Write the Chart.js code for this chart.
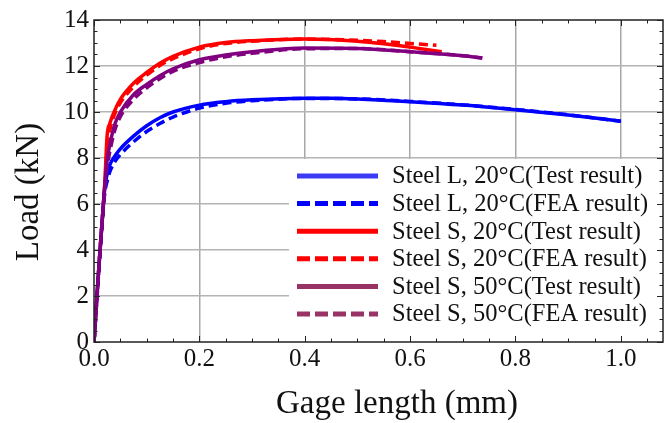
<!DOCTYPE html>
<html><head><meta charset="utf-8">
<script src="https://cdn.jsdelivr.net/npm/chart.js@4/dist/chart.umd.min.js"></script>
<style>html,body{margin:0;padding:0;background:#fff;}canvas{display:block;}</style>
</head><body>
<canvas id="c" width="664" height="423"></canvas>
<script>
// ---- data (gage length in mm, load in kN) ----
const gageL20Test = [0,0.005,0.01,0.015,0.02,0.024,0.03,0.04,0.05,0.075,0.1,0.125,0.15,0.2,0.25,0.3,0.4,0.45,0.5,0.6,0.7,0.8,0.9,1.0];
const loadL20Test = [0,1.8,3.5,5.1,6.6,7.2,7.7,8.1,8.4,8.95,9.4,9.75,10.0,10.3,10.45,10.53,10.6,10.6,10.57,10.45,10.3,10.1,9.87,9.6];
const gageL20FEA  = [0,0.005,0.01,0.015,0.02,0.025,0.03,0.04,0.05,0.075,0.1,0.125,0.15,0.2,0.25,0.3,0.4,0.5,0.6,0.7,0.8,0.9,1.0];
const loadL20FEA  = [0,1.7,3.4,5.0,6.4,7.0,7.4,7.85,8.15,8.7,9.15,9.5,9.78,10.17,10.38,10.49,10.59,10.57,10.46,10.31,10.11,9.88,9.6];
const gageS20Test = [0,0.005,0.01,0.015,0.02,0.025,0.03,0.04,0.05,0.075,0.1,0.125,0.15,0.2,0.25,0.3,0.4,0.5,0.55,0.6,0.66];
const loadS20Test = [0,1.8,3.5,5.1,6.7,9.0,9.5,10.1,10.55,11.25,11.72,12.12,12.42,12.82,13.02,13.1,13.17,13.08,12.97,12.82,12.62];
const gageS20FEA  = [0,0.005,0.01,0.015,0.02,0.025,0.03,0.04,0.05,0.075,0.1,0.125,0.15,0.2,0.25,0.3,0.4,0.5,0.55,0.6,0.65];
const loadS20FEA  = [0,1.8,3.5,5.1,6.6,8.4,9.2,9.95,10.4,11.1,11.6,12.02,12.32,12.75,12.98,13.08,13.17,13.12,13.06,12.98,12.9];
const gageS50Test = [0,0.005,0.01,0.015,0.02,0.025,0.033,0.04,0.05,0.075,0.1,0.125,0.15,0.2,0.25,0.3,0.4,0.5,0.6,0.7,0.737];
const loadS50Test = [0,1.8,3.5,5.1,6.7,7.9,8.9,9.5,10.0,10.75,11.2,11.58,11.88,12.27,12.48,12.62,12.78,12.76,12.62,12.45,12.35];
const gageS50FEA  = [0,0.005,0.01,0.015,0.02,0.025,0.033,0.04,0.05,0.075,0.1,0.125,0.15,0.2,0.25,0.3,0.4,0.5,0.6,0.7,0.737];
const loadS50FEA  = [0,1.7,3.4,5.0,6.5,7.6,8.6,9.25,9.8,10.55,11.05,11.45,11.77,12.15,12.4,12.55,12.75,12.76,12.62,12.45,12.35];

const seriesNames = ['Steel L, 20°C(Test result)','Steel L, 20°C(FEA result)','Steel S, 20°C(Test result)','Steel S, 20°C(FEA result)','Steel S, 50°C(Test result)','Steel S, 50°C(FEA result)'];
const xTickValues = [0,0.2,0.4,0.6,0.8,1.0];
const xTickLabels = ['0.0','0.2','0.4','0.6','0.8','1.0'];
const yTickValues = [0,2,4,6,8,10,12,14];
const yTickLabels = ['0','2','4','6','8','10','12','14'];
const xTitle = 'Gage length (mm)';
const yTitle = 'Load (kN)';

// ---- styles ----
const lineColors   = ['#0000ff','#0000ff','#ff0000','#ff0000','#800080','#800080'];
const legendColors = ['#3b3bf5','#0000ff','#ff0000','#ff0000','#993366','#993366'];
const dashed = [false,true,false,true,false,true];
const drawOrder = [3,2,5,4,1,0];
const FONT = '"Liberation Serif","Times New Roman",serif';

function pts(xs, ys){ return xs.map((x,i)=>({x:x, y:ys[i]})); }
const allData = [pts(gageL20Test,loadL20Test),pts(gageL20FEA,loadL20FEA),pts(gageS20Test,loadS20Test),pts(gageS20FEA,loadS20FEA),pts(gageS50Test,loadS50Test),pts(gageS50FEA,loadS50FEA)];

const datasets = allData.map((d,i)=>({
  label: seriesNames[i], data: d, showLine: true, pointRadius: 0,
  borderColor: lineColors[i], backgroundColor: lineColors[i],
  borderWidth: 3.5, borderDash: dashed[i] ? [9,5] : [],
  cubicInterpolationMode: 'monotone', order: drawOrder[i], fill: false
}));

const decor = {
  id: 'decor',
  beforeDatasetsDraw(chart){
    const {ctx, chartArea:a} = chart;
    ctx.save(); ctx.fillStyle = '#fff';
    ctx.fillRect(289, 159, a.right - 289, a.bottom - 159);
    ctx.restore();
  },
  afterDraw(chart){
    const {ctx, chartArea:a, scales:{x, y}} = chart;
    ctx.save();
    ctx.strokeStyle = '#222'; ctx.lineWidth = 1;
    for (let v = 0; v <= 1.08 + 1e-9; v += 0.05){
      const px = Math.round(x.getPixelForValue(v)) + 0.5;
      const major = Math.abs(v/0.2 - Math.round(v/0.2)) < 1e-6;
      const L = major ? 6 : 3.5;
      ctx.beginPath(); ctx.moveTo(px, a.bottom); ctx.lineTo(px, a.bottom - L);
      ctx.moveTo(px, a.top); ctx.lineTo(px, a.top + L); ctx.stroke();
    }
    for (let v = 0; v <= 14 + 1e-9; v += 0.5){
      const py = Math.round(y.getPixelForValue(v)) + 0.5;
      const major = Math.abs(v/2 - Math.round(v/2)) < 1e-6;
      const L = major ? 6 : 3.5;
      ctx.beginPath(); ctx.moveTo(a.left, py); ctx.lineTo(a.left + L, py);
      ctx.moveTo(a.right, py); ctx.lineTo(a.right - L, py); ctx.stroke();
    }
    ctx.strokeStyle = '#222'; ctx.lineWidth = 1.5;
    ctx.strokeRect(a.left, a.top, a.right - a.left, a.bottom - a.top);
    // legend
    ctx.font = '24.5px ' + FONT; ctx.textBaseline = 'middle'; ctx.textAlign = 'left';
    for (let i = 0; i < seriesNames.length; i++){
      const yy = 176 + i * 27.6;
      ctx.strokeStyle = legendColors[i]; ctx.lineWidth = 5;
      ctx.setLineDash(dashed[i] ? [13,5] : []);
      ctx.beginPath(); ctx.moveTo(297, yy); ctx.lineTo(378, yy); ctx.stroke();
      ctx.setLineDash([]);
      ctx.fillStyle = '#111';
      ctx.fillText(seriesNames[i], 392, yy + 1);
    }
    // axis titles
    ctx.font = '33px ' + FONT; ctx.fillStyle = '#111'; ctx.textAlign = 'center';
    ctx.fillText(xTitle, 397, 404);
    ctx.translate(29, 192); ctx.rotate(-Math.PI/2);
    ctx.fillText(yTitle, 0, 0);
    ctx.restore();
  }
};

new Chart(document.getElementById('c'), {
  type: 'scatter',
  data: { datasets },
  options: {
    responsive: false, animation: false, devicePixelRatio: 1,
    layout: { padding: { left: 0, top: 19, right: 1, bottom: 0 } },
    plugins: { legend: { display: false }, tooltip: { enabled: false } },
    scales: {
      x: {
        type: 'linear', min: 0, max: 1.08,
        afterBuildTicks: s => { s.ticks = xTickValues.map(v => ({value: v})); },
        afterFit: s => { s.height = 81; },
        grid: { color: c => (c.tick && c.tick.value > 0) ? '#a8a8a8' : 'rgba(0,0,0,0)', lineWidth: 1.5, drawTicks: false },
        border: { display: false },
        ticks: { font: { family: FONT, size: 25 }, color: '#111', padding: 2, maxRotation: 0,
          callback: (v) => { const k = xTickValues.findIndex(t => Math.abs(t - v) < 1e-9); return k >= 0 ? xTickLabels[k] : ''; } }
      },
      y: {
        type: 'linear', min: 0, max: 14,
        afterBuildTicks: s => { s.ticks = yTickValues.map(v => ({value: v})); },
        afterFit: s => { s.width = 94; },
        grid: { color: c => (c.tick && c.tick.value > 0 && c.tick.value < 14) ? '#b4b4b4' : 'rgba(0,0,0,0)', lineWidth: 1.5, drawTicks: false },
        border: { display: false },
        ticks: { font: { family: FONT, size: 25 }, color: '#111', padding: 5,
          callback: (v) => { const k = yTickValues.findIndex(t => Math.abs(t - v) < 1e-9); return k >= 0 ? yTickLabels[k] : ''; } }
      }
    }
  },
  plugins: [decor]
});
</script>
</body></html>
